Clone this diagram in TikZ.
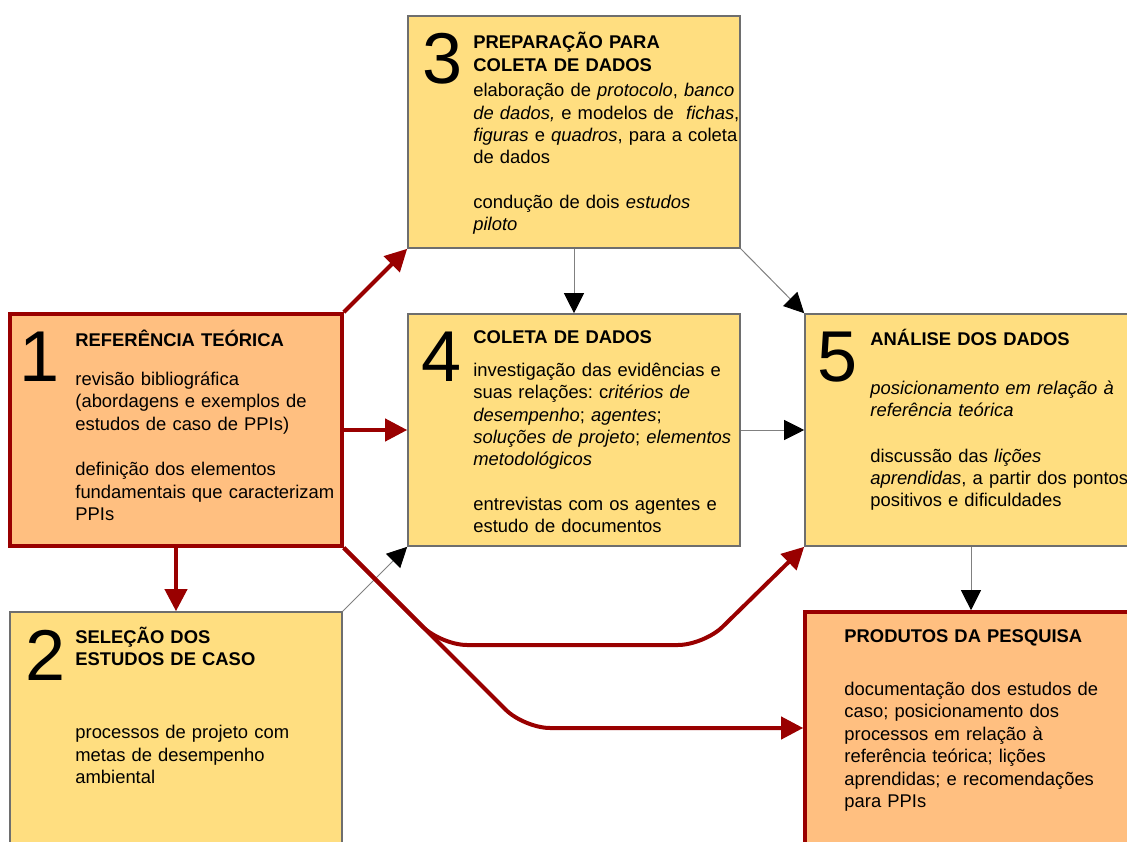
\documentclass[tikz,border=0pt]{standalone}
\usepackage{fontspec}
\setmainfont{Liberation Sans}
\usetikzlibrary{arrows.meta}
\definecolor{amarelo}{RGB}{255,222,128}
\definecolor{laranja}{RGB}{255,191,128}
\definecolor{vinho}{RGB}{153,0,0}
\definecolor{cinza}{RGB}{110,110,110}
\frenchspacing
\tikzset{
    etapa/.style = {rectangle, draw=cinza, line width=0.8pt, fill=amarelo, minimum width=166pt, minimum height=116pt, inner sep=0pt},
    etapar/.style = {etapa, draw=vinho, line width=1.8pt, fill=laranja},
    numero/.style = {anchor=base west, inner sep=0pt, font=\fontsize{36}{36}\selectfont},
    texto/.style = {anchor=base west, inner sep=0pt, text width=145pt, align=left, font=\fontsize{9.2}{11.2}\selectfont},
    edgen/.style = {-{Triangle[length=10pt,width=10pt,color=black]}, line width=0.5pt, draw=gray},
    edger/.style = {-{Triangle[length=11pt,width=11pt]}, line width=2pt, draw=vinho, rounded corners=13pt}
}

\begin{document}
\begin{tikzpicture}[x=0.5pt,y=0.5pt]
\useasboundingbox (0,0) rectangle (1127,841);
% etapas
\node[etapa]  at (574,709) (b3) {};
\node[etapar] at (176,411) (b1) {};
\node[etapa]  at (574,411) (b4) {};
\node[etapa]  at (971,411) (b5) {};
\node[etapa]  at (176,113) (b2) {};
\node[etapar] at (971,113) (b6) {};
% numeros
\node[numero] at (422,757) (n3) {3};
\node[numero] at (19,459) (n1) {1};
\node[numero] at (421,459) (n4) {4};
\node[numero] at (817,459) (n5) {5};
\node[numero] at (25,161) (n2) {2};
% textos
\node[texto] at (473,792) (t3) {\textbf{PREPARAÇÃO PARA}\\\textbf{COLETA DE DADOS}\\[1.5pt]
elaboração de \textit{protocolo}, \textit{banco}\\
\textit{de dados,} e modelos de\ \ \textit{fichas},\\
\textit{figuras} e \textit{quadros}, para a coleta\\
de dados\\[11pt]
condução de dois \textit{estudos}\\
\textit{piloto}};
\node[texto] at (75,494) (t1) {\textbf{REFERÊNCIA TEÓRICA}\\[8pt]
revisão bibliográfica\\
(abordagens e exemplos de\\
estudos de caso de PPIs)\\[11.5pt]
definição dos elementos\\
fundamentais que caracterizam\\
PPIs};
\node[texto] at (473,497) (t4) {\textbf{COLETA DE DADOS}\\[5pt]
investigação das evidências e\\
suas relações: c\textit{ritérios de}\\
\textit{desempenho}; \textit{agentes};\\
\textit{soluções de projeto}; \textit{elementos}\\
\textit{metodológicos}\\[11pt]
entrevistas com os agentes e\\
estudo de documentos};
\node[texto] at (870,495) (t5) {\textbf{ANÁLISE DOS DADOS}\\[13pt]
\textit{posicionamento em relação à}\\
\textit{referência teórica}\\[11.5pt]
discussão das \textit{lições}\\
\textit{aprendidas}, a partir dos pontos\\
positivos e dificuldades};
\node[texto] at (75,198) (t2) {\textbf{SELEÇÃO DOS}\\\textbf{ESTUDOS DE CASO}\\[25.5pt]
processos de projeto com\\
metas de desempenho\\
ambiental};
\node[texto] at (844,199) (t6) {\textbf{PRODUTOS DA PESQUISA}\\[15.5pt]
documentação dos estudos de\\
caso; posicionamento dos\\
processos em relação à\\
referência teórica; lições\\
aprendidas; e recomendações\\
para PPIs};
% ligacoes
\draw[edgen] (b2.north east) -- (b4.south west);
\draw[edgen] (b3.south) -- (b4.north);
\draw[edgen] (b3.south east) -- (b5.north west);
\draw[edgen] (b4.east) -- (b5.west);
\draw[edgen] (b5.south) -- (b6.north);
\draw[edger] (b1.north east) -- (b3.south west);
\draw[edger] (b1.east) -- (b4.west);
\draw[edger] (b1.south) -- (b2.north);
\draw[edger] (b1.south east) -- (441,196) -- (704,196) -- (b5.south west);
\draw[edger] (b1.south east) -- (524,113) -- (b6.west);
\end{tikzpicture}
\end{document}
